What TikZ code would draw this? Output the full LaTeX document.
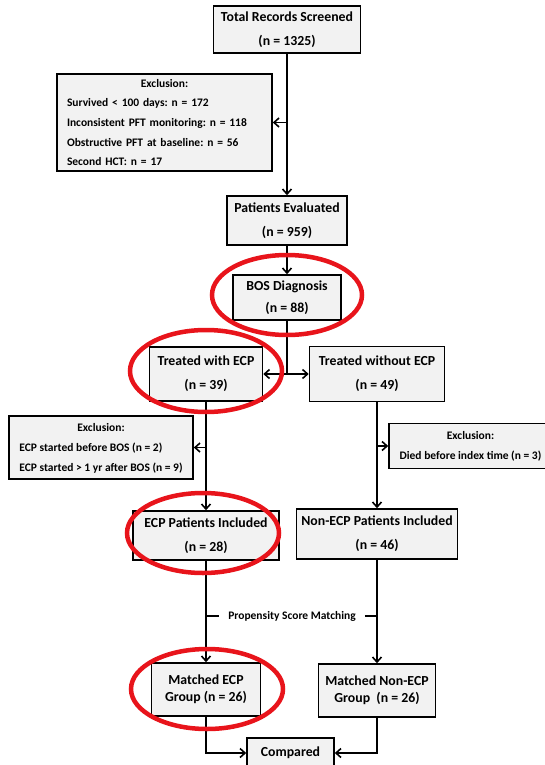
\documentclass[tikz,border=0pt]{standalone}
\usepackage{fontspec}
\setmainfont{Carlito}
\usepackage{tikz}
\usetikzlibrary{arrows.meta,positioning}
\definecolor{boxgray}{HTML}{F2F2F2}
\definecolor{ringred}{HTML}{E8141B}

\begin{document}
\begin{tikzpicture}[x=1pt,y=-1pt,>={Straight Barb[length=5pt,width=9pt]},
  box/.style={draw,fill=boxgray,line width=1.6pt,inner sep=0pt,align=center,
    font=\bfseries\frenchspacing\fontsize{13.8}{24}\selectfont},
  exclbox/.style={draw,fill=boxgray,line width=1.6pt,inner ysep=0pt,
    font=\bfseries\frenchspacing\fontsize{11.5}{19.7}\selectfont},
  link/.style={line width=1.6pt},
  ring/.style={draw=ringred,line width=4.5pt}]
\useasboundingbox (0,0) rectangle (545,765);
\node[box,minimum width=147pt,minimum height=47pt] (total) at (287,29.5) {Total Records Screened\\(n = 1325)};
\node[box,minimum width=120pt,minimum height=49pt] (eval) at (287,220.5) {Patients Evaluated\\(n = 959)};
\node[box,minimum width=108pt,minimum height=45pt] (bos) at (287,297.5) {BOS Diagnosis\\[-2pt](n = 88)};
\node[box,minimum width=113pt,minimum height=54pt] (ecp) at (206,374) {Treated with ECP\\(n = 39)};
\node[box,minimum width=135pt,minimum height=55pt] (noecp) at (377,374) {Treated without ECP\\(n = 49)};
\node[box,minimum width=146pt,minimum height=49pt] (ecpin) at (206,535.5) {ECP Patients Included\\(n = 28)};
\node[box,minimum width=161pt,minimum height=50pt] (noecpin) at (377,534) {Non-ECP Patients Included\\(n = 46)};
\node[box,minimum width=109pt,minimum height=53pt] (ecpmatch) at (206,689.5) {Matched ECP\\[-7pt]Group (n = 26)};
\node[box,minimum width=117pt,minimum height=53pt] (noecpmatch) at (377,690.5) {Matched Non-ECP\\[-7pt]Group~~(n = 26)};
\node[box,minimum width=87pt,minimum height=30pt] (comp) at (290.5,753) {Compared};

\node[exclbox,text width=195pt,inner xsep=10pt,minimum height=97pt,align=left] (excl1) at (164.5,122.5)
  {{\centering Exclusion:\par}Survived < 100 days: n = 172\\Inconsistent PFT monitoring: n = 118\\Obstructive PFT at baseline: n = 56\\Second HCT: n = 17};
\node[exclbox,minimum width=184pt,minimum height=63pt] (excl2) at (101,447.5)
  {\begin{tabular}{@{}l@{}}\multicolumn{1}{@{}c@{}}{Exclusion:}\\ECP started before BOS (n = 2)\\ECP started > 1 yr after BOS (n = 9)\end{tabular}};
\node[exclbox,align=center,minimum width=163pt,minimum height=45pt] (excl3) at (470.5,446)
  {Exclusion:\\Died before index time (n = 3)};
\node[font=\bfseries\fontsize{11.5}{13}\selectfont,inner xsep=9pt] (psm) at (292,616) {Propensity Score Matching};

\draw[link,->] (total) -- (eval);
\draw[link,->] (total |- excl1.east) -- (excl1.east);
\draw[link,->] (eval) -- (bos);
\draw[link] (bos) -- (bos |- ecp.east);
\draw[link,<->] (ecp) -- (noecp);
\draw[link,->] (ecp) -- (ecpin);
\draw[link,->] (ecp |- excl2.east) -- (excl2.east);
\draw[link,->] (noecp) -- (noecpin);
\draw[link,->] (noecp |- excl3.west) -- (excl3.west);
\draw[link,->] (ecpin) -- (ecpmatch);
\draw[link,->] (noecpin) -- (noecpmatch);
\draw[link] (ecpin |- psm) -- (psm) -- (noecpin |- psm);
\draw[link,->] (ecpmatch) |- (comp);
\draw[link,->] (noecpmatch) |- (comp);

\draw[ring] (287,295) ellipse (75pt and 40pt);
\draw[ring] (206,371) ellipse (76pt and 41pt);
\draw[ring] (203,533) ellipse (76pt and 40pt);
\draw[ring] (207,689) ellipse (76pt and 40pt);
\end{tikzpicture}
\end{document}
